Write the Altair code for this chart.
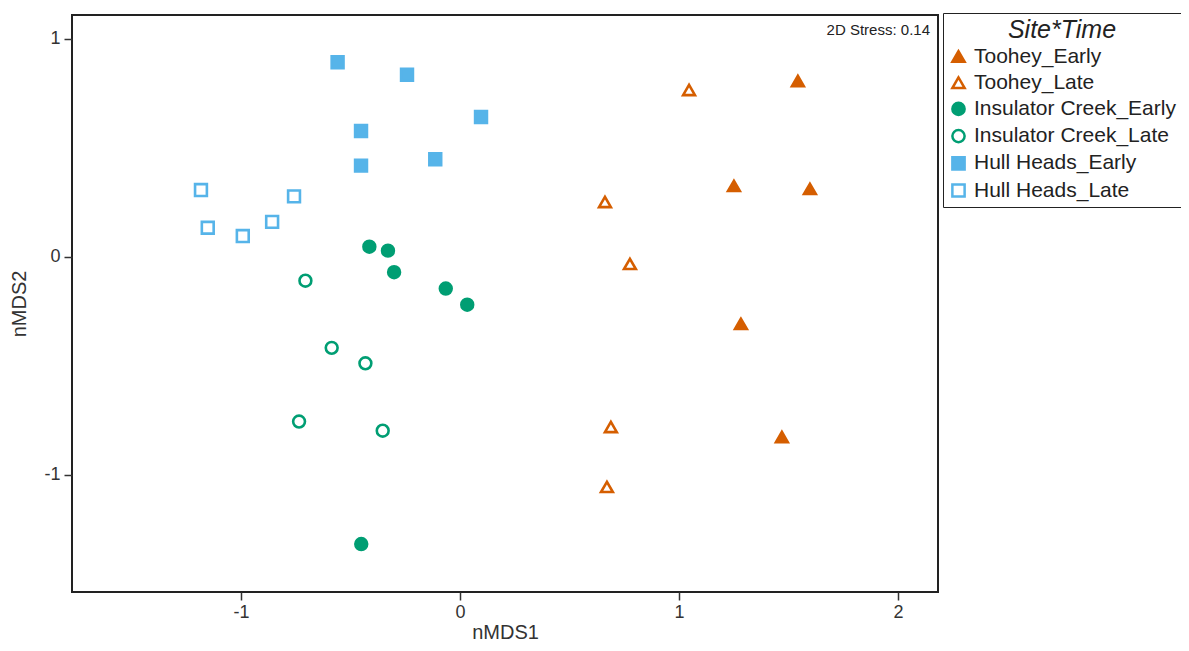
import altair as alt
import pandas as pd

groups = ["Toohey_Early", "Toohey_Late", "Insulator Creek_Early",
          "Insulator Creek_Late", "Hull Heads_Early", "Hull Heads_Late"]

toohey_early_x = [1.543, 1.251, 1.598, 1.283, 1.470]
toohey_early_y = [0.807, 0.326, 0.312, -0.307, -0.826]
toohey_late_x = [1.046, 0.662, 0.776, 0.689, 0.671]
toohey_late_y = [0.766, 0.252, -0.032, -0.780, -1.055]
insulator_early_x = [-0.414, -0.329, -0.301, -0.065, 0.033, -0.451]
insulator_early_y = [0.047, 0.029, -0.070, -0.145, -0.219, -1.317]
insulator_late_x = [-0.706, -0.586, -0.432, -0.735, -0.353]
insulator_late_y = [-0.109, -0.417, -0.488, -0.755, -0.797]
hull_early_x = [-0.559, -0.242, 0.096, -0.452, -0.452, -0.113]
hull_early_y = [0.893, 0.836, 0.642, 0.578, 0.419, 0.448]
hull_late_x = [-1.183, -0.758, -1.152, -0.992, -0.858]
hull_late_y = [0.307, 0.278, 0.134, 0.096, 0.161]

stress_text = ["2D Stress: 0.14"]

series = [
    (groups[0], toohey_early_x, toohey_early_y),
    (groups[1], toohey_late_x, toohey_late_y),
    (groups[2], insulator_early_x, insulator_early_y),
    (groups[3], insulator_late_x, insulator_late_y),
    (groups[4], hull_early_x, hull_early_y),
    (groups[5], hull_late_x, hull_late_y),
]
rows = []
for g, xs, ys in series:
    for x, y in zip(xs, ys):
        rows.append({"group": g, "nMDS1": x, "nMDS2": y})
df = pd.DataFrame(rows)

orange = "#D55E00"
green = "#009E73"
blue = "#56B4E9"
stroke_colors = [orange, orange, green, green, blue, blue]
fill_colors = [orange, "white", green, "white", blue, "white"]
shapes = ["triangle-up", "triangle-up", "circle", "circle", "square", "square"]

FONT = "Liberation Sans"
legend = alt.Legend(
    title="Site*Time", orient="none", legendX=871, legendY=-2,
    titleFont=FONT, titleFontSize=25, titleFontStyle="italic", titleFontWeight="normal",
    titleColor="#222", titleAnchor="middle", titlePadding=3,
    labelFont=FONT, labelFontSize=21, labelColor="#222", labelLimit=400, labelOffset=5,
    symbolSize=150, symbolStrokeWidth=2.5, rowPadding=4.2,
    strokeColor="#222", padding=5, fillColor="white",
)

label_expr = "replace(datum.label, '\u2212', '-')"

points = alt.Chart(df).mark_point(
    filled=False, size=140, strokeWidth=2.6, opacity=1, fillOpacity=1
).encode(
    x=alt.X("nMDS1:Q", title="nMDS1",
            scale=alt.Scale(domain=[-1.772, 2.183], nice=False, zero=False),
            axis=alt.Axis(values=[-1, 0, 1, 2], format="d", labelExpr=label_expr,
                          grid=False, domain=False,
                          tickSize=8, tickColor="#333", tickWidth=1.5,
                          labelFont=FONT, labelFontSize=18, labelColor="#333", labelPadding=3,
                          titleFont=FONT, titleFontSize=20, titleFontWeight="normal",
                          titleColor="#333", titlePadding=1)),
    y=alt.Y("nMDS2:Q", title="nMDS2",
            scale=alt.Scale(domain=[-1.537, 1.110], nice=False, zero=False),
            axis=alt.Axis(values=[-1, 0, 1], format="d", labelExpr=label_expr,
                          grid=False, domain=False,
                          tickSize=8, tickColor="#333", tickWidth=1.5,
                          labelFont=FONT, labelFontSize=18, labelColor="#333", labelPadding=4,
                          titleFont=FONT, titleFontSize=20, titleFontWeight="normal",
                          titleColor="#333", titlePadding=14)),
    color=alt.Color("group:N", scale=alt.Scale(domain=groups, range=stroke_colors), legend=legend),
    fill=alt.Fill("group:N", scale=alt.Scale(domain=groups, range=fill_colors), legend=legend),
    shape=alt.Shape("group:N", scale=alt.Scale(domain=groups, range=shapes), legend=legend),
)

stress = alt.Chart(pd.DataFrame({"t": stress_text})).mark_text(
    align="right", baseline="middle", font=FONT, fontSize=15, color="#222"
).encode(x=alt.value(858), y=alt.value(15), text="t:N")

chart = alt.layer(points, stress).properties(
    width=866, height=577,
    background="white",
    autosize=alt.AutoSizeParams(type="none"),
    padding={"left": 64, "top": 7, "right": 243, "bottom": 51},
).configure_view(stroke="#222", strokeWidth=2)

chart.save("out.html", embed_options={"renderer": "svg", "actions": False})
